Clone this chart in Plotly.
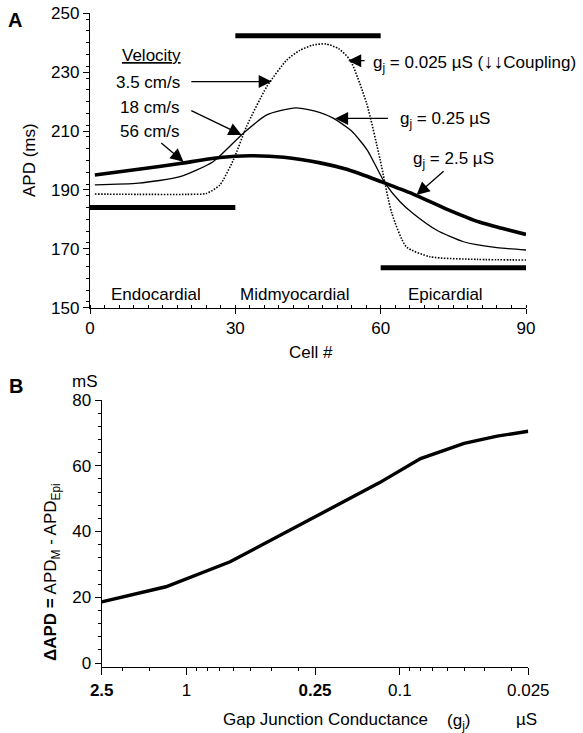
import math
import plotly.graph_objects as go

W, H = 583, 733

# ---------- Panel A data ----------
cells_25 = [1, 10, 18.6, 26.8, 33, 40, 47.5, 53, 58.5, 60.9, 66.7, 73.6, 80.5, 85, 90]
apd_25 = [195.1, 197.0, 199.0, 201.0, 201.6, 201.1, 199.2, 197.0, 193.8, 192.3, 188.6, 183.5, 179.0, 177.0, 174.9]

cells_025 = [1, 10, 18.6, 25.4, 31.6, 36.5, 42.5, 47.5, 50.2, 54, 57.2, 60.9, 64, 66.7, 71.6, 77.1, 84, 90]
apd_025 = [191.7, 192.3, 194.5, 199.6, 209.2, 215.5, 217.9, 216.3, 214.4, 210.0, 203.6, 192.3, 186.0, 182.0, 176.3, 172.4, 170.4, 169.6]

cells_0025 = [1, 10, 20, 24, 26.8, 29.6, 32.3, 36.5, 40.6, 43.3, 46, 48.7, 51.3, 53.7, 57.1, 59.9, 62.3, 65.3, 70.2, 80, 90]
apd_0025 = [188.6, 188.5, 188.5, 188.8, 191.7, 200.2, 211.5, 225.1, 234.1, 237.4, 239.2, 239.6, 238.0, 234.1, 219.4, 200.2, 182.1, 170.7, 167.3, 166.4, 166.2]

region_start = [0, 30, 60]
region_end = [30, 60, 90]
region_apd = [184.0, 242.4, 163.6]
region_names = ["Endocardial", "Midmyocardial", "Epicardial"]

# ---------- Panel B data ----------
gj = [2.5, 1.25, 0.625, 0.25, 0.125, 0.08, 0.05, 0.035, 0.025]
dapd = [18.6, 23.2, 30.8, 44.5, 54.8, 62.2, 66.8, 69.0, 70.5]

gj_ticks = [2.5, 1, 0.25, 0.1, 0.025]
gj_ticktext = ["<b>2.5</b>", "1", "<b>0.25</b>", "0.1", "0.025"]
gj_minor = [2, 1.5, 0.9, 0.8, 0.7, 0.6, 0.5, 0.4, 0.3, 0.09, 0.08, 0.07, 0.06, 0.05, 0.04, 0.03]

FONT = "Liberation Sans, Arial, sans-serif"
FS = 17

fig = go.Figure()

fig.add_trace(go.Scatter(x=cells_25, y=apd_25, mode="lines", line=dict(color="black", width=3.6, shape="spline", smoothing=0.6), xaxis="x", yaxis="y"))
fig.add_trace(go.Scatter(x=cells_025, y=apd_025, mode="lines", line=dict(color="black", width=1.3, shape="spline", smoothing=0.6), xaxis="x", yaxis="y"))
fig.add_trace(go.Scatter(x=cells_0025, y=apd_0025, mode="lines", line=dict(color="black", width=1.6, dash="1.5px,1.5px", shape="spline", smoothing=0.6), xaxis="x", yaxis="y"))
for s, e, v in zip(region_start, region_end, region_apd):
    fig.add_trace(go.Scatter(x=[s, e], y=[v, v], mode="lines", line=dict(color="black", width=5), xaxis="x", yaxis="y"))

fig.add_trace(go.Scatter(x=gj, y=dapd, mode="lines", line=dict(color="black", width=3.4), xaxis="x2", yaxis="y2"))

def px(x):
    return x / W

def py(y):
    return 1 - y / H

def ax_common():
    return dict(showline=True, linecolor="black", linewidth=1.3, showgrid=False, zeroline=False,
                tickcolor="black", tickfont=dict(family=FONT, size=FS, color="black"))

xa = ax_common()
xa.update(domain=[90 / W, 526 / W], range=[0, 90], tickvals=[0, 30, 60, 90], ticks="outside", ticklen=5,
          tickwidth=1.2, minor=dict(dtick=3, ticks="inside", ticklen=3, tickcolor="black", tickwidth=1),
          anchor="y")
ya = ax_common()
ya.update(domain=[py(307.7), py(13.3)], range=[150, 250], tickvals=[150, 170, 190, 210, 230, 250],
          ticks="outside", ticklen=6, tickwidth=1.2,
          minor=dict(dtick=4, ticks="outside", ticklen=3, tickcolor="black", tickwidth=1), anchor="x")

xb = ax_common()
xb.update(domain=[101.7 / W, 528.3 / W], type="log", range=[math.log10(2.5), math.log10(0.025)],
          tickvals=gj_ticks, ticktext=gj_ticktext, ticks="outside", ticklen=7, tickwidth=1.2,
          minor=dict(tickvals=gj_minor, ticks="outside", ticklen=3, tickcolor="black", tickwidth=1),
          anchor="y2")
yb = ax_common()
yb.update(domain=[py(667.3), py(400)], range=[-1.3, 80], tickvals=[0, 20, 40, 60, 80],
          ticks="outside", ticklen=6, tickwidth=1.2,
          minor=dict(tickvals=[4, 8, 12, 16, 24, 28, 32, 36, 44, 48, 52, 56, 64, 68, 72, 76],
                     ticks="outside", ticklen=3, tickcolor="black", tickwidth=1),
          anchor="x2")

ann = []

def text(t, x, y, xanchor="center", size=FS, angle=0, yanchor="middle"):
    ann.append(dict(text=t, x=px(x), y=py(y), xref="paper", yref="paper", showarrow=False,
                    xanchor=xanchor, yanchor=yanchor, textangle=angle,
                    font=dict(family=FONT, size=size, color="black")))

def arrow(tx, ty, hx, hy):
    ann.append(dict(text="", x=hx, y=hy, ax=tx, ay=ty, xref="x", yref="y", axref="x", ayref="y",
                    showarrow=True, arrowhead=2, arrowsize=2.0, arrowwidth=1.3, arrowcolor="black"))

# panel labels
text("<b>A</b>", 15, 20, size=20)
text("<b>B</b>", 16, 386, size=20)

# panel A texts
text("<u>Velocity</u>", 151, 55)
text("3.5 cm/s", 182, 82, xanchor="right")
text("18 cm/s", 182, 108, xanchor="right")
text("56 cm/s", 182, 132, xanchor="right")
text("g<sub>j</sub> = 0.025 µS (<b><span style='font-size:20px'>↓↓</span></b>Coupling)", 371, 62, xanchor="left")
text("g<sub>j</sub> = 0.25 µS", 398, 120, xanchor="left")
text("g<sub>j</sub> = 2.5 µS", 411, 160, xanchor="left")
for name, cx in zip(region_names, [156, 295, 445]):
    text(name, cx, 294)
text("APD (ms)", 30, 160, angle=-90)
text("Cell #", 311, 352)

# arrows panel A (tail cell/apd -> head cell/apd)
arrow(20.6, 226.8, 37.5, 226.8)
arrow(20.6, 217.2, 31.3, 208.7)
arrow(14.4, 206.4, 19.3, 199.6)
arrow(57.0, 233.9, 53.3, 233.9)
arrow(61.8, 214.3, 50.6, 214.3)
arrow(73.3, 196.8, 67.4, 188.3)

# panel B texts
text("mS", 85, 381)
text("<b>ΔAPD =</b> APD<sub>M</sub> - APD<sub>Epi</sub>", 52, 572, angle=-90)
text("Gap Junction Conductance", 325.5, 719)
text("(g<sub>j</sub>)", 458, 722)
text("µS", 526, 719)

fig.update_layout(
    width=W, height=H, margin=dict(l=0, r=0, t=0, b=0, autoexpand=False),
    paper_bgcolor="white", plot_bgcolor="white", showlegend=False,
    xaxis=xa, yaxis=ya, xaxis2=xb, yaxis2=yb, annotations=ann,
    font=dict(family=FONT, size=FS, color="black"),
)

fig.write_html("out.html")
